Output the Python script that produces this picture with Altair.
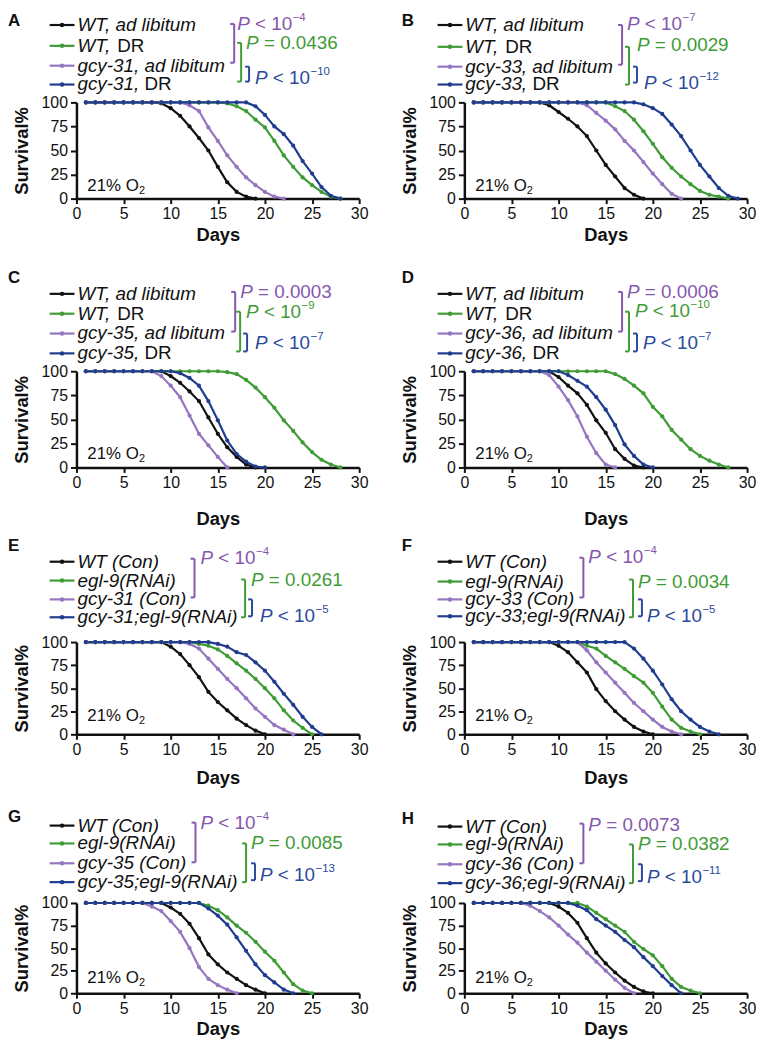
import altair as alt
import pandas as pd

# ---------------- data ----------------
SERIES_COLORS = ["#111111", "#3f9b35", "#9575c0", "#1f3c8f"]
P_COLORS = ["#8557ad", "#3f9b35", "#2b4a9b"]
X_TICKS = [0, 5, 10, 15, 20, 25, 30]
Y_TICKS = [0, 25, 50, 75, 100]
LETTERS = ["A", "B", "C", "D", "E", "F", "G", "H"]

A_WT_AL = [100, 100, 100, 100, 100, 100, 100, 100, 99, 94, 86, 75, 63, 50, 33, 17, 7, 2, 0]
A_WT_DR = [100, 100, 100, 100, 100, 100, 100, 100, 100, 100, 100, 100, 100, 100, 100, 99, 96, 91, 82, 74, 60, 45, 33, 22, 14, 7, 2, 0]
A_MUT_AL = [100, 100, 100, 100, 100, 100, 100, 100, 100, 100, 100, 97, 91, 74, 60, 45, 33, 22, 14, 7, 2, 0]
A_MUT_DR = [100, 100, 100, 100, 100, 100, 100, 100, 100, 100, 100, 100, 100, 100, 100, 100, 100, 100, 96, 87, 75, 67, 55, 39, 26, 12, 3, 0]

B_WT_AL = [100, 100, 100, 100, 100, 100, 100, 100, 97, 90, 83, 75, 65, 50, 35, 23, 11, 4, 0]
B_WT_DR = [100, 100, 100, 100, 100, 100, 100, 100, 100, 100, 100, 100, 100, 100, 100, 96, 91, 82, 70, 57, 43, 32, 23, 15, 8, 4, 2, 0]
B_MUT_AL = [100, 100, 100, 100, 100, 100, 100, 100, 100, 100, 100, 100, 97, 89, 81, 72, 60, 50, 38, 26, 15, 5, 0]
B_MUT_DR = [100, 100, 100, 100, 100, 100, 100, 100, 100, 100, 100, 100, 100, 100, 100, 100, 100, 100, 98, 94, 88, 77, 65, 50, 35, 23, 11, 3, 0]

C_WT_AL = [100, 100, 100, 100, 100, 100, 100, 100, 100, 95, 88, 79, 69, 52, 35, 21, 11, 3, 0]
C_WT_DR = [100, 100, 100, 100, 100, 100, 100, 100, 100, 100, 100, 100, 100, 100, 100, 99, 97, 91, 83, 73, 62, 49, 38, 26, 16, 8, 3, 0]
C_MUT_AL = [100, 100, 100, 100, 100, 100, 100, 100, 95, 85, 73, 54, 35, 23, 11, 0]
C_MUT_DR = [100, 100, 100, 100, 100, 100, 100, 100, 100, 100, 98, 93, 85, 69, 49, 28, 14, 6, 1, 0]

D_WT_AL = [100, 100, 100, 100, 100, 100, 100, 100, 100, 94, 85, 77, 65, 49, 36, 19, 9, 2, 0]
D_WT_DR = [100, 100, 100, 100, 100, 100, 100, 100, 100, 100, 100, 100, 100, 100, 100, 97, 92, 85, 77, 63, 53, 39, 29, 19, 12, 7, 3, 0]
D_MUT_AL = [100, 100, 100, 100, 100, 100, 100, 100, 96, 84, 70, 53, 32, 15, 3, 0]
D_MUT_DR = [100, 100, 100, 100, 100, 100, 100, 100, 100, 100, 96, 90, 84, 73, 60, 44, 24, 12, 3, 0]

E_WT = [100, 100, 100, 100, 100, 100, 100, 100, 100, 95, 87, 75, 62, 46, 35, 26, 17, 10, 4, 0]
E_EGL = [100, 100, 100, 100, 100, 100, 100, 100, 100, 100, 100, 100, 98, 96, 92, 85, 77, 69, 60, 50, 39, 26, 15, 7, 0]
E_MUT = [100, 100, 100, 100, 100, 100, 100, 100, 100, 100, 100, 98, 93, 82, 71, 60, 50, 39, 28, 19, 10, 5, 0]
E_MUT_EGL = [100, 100, 100, 100, 100, 100, 100, 100, 100, 100, 100, 100, 100, 100, 98, 95, 89, 86, 78, 69, 57, 44, 32, 19, 8, 0]

F_WT = [100, 100, 100, 100, 100, 100, 100, 100, 100, 96, 89, 78, 67, 49, 36, 25, 16, 8, 3, 0]
F_EGL = [100, 100, 100, 100, 100, 100, 100, 100, 100, 100, 100, 100, 96, 93, 85, 78, 71, 63, 56, 45, 30, 16, 7, 3, 0]
F_MUT = [100, 100, 100, 100, 100, 100, 100, 100, 100, 100, 100, 100, 91, 78, 67, 56, 45, 34, 25, 16, 8, 3, 0]
F_MUT_EGL = [100, 100, 100, 100, 100, 100, 100, 100, 100, 100, 100, 100, 100, 100, 100, 100, 100, 93, 82, 69, 54, 38, 25, 16, 8, 3, 0]

G_WT = [100, 100, 100, 100, 100, 100, 100, 100, 100, 95, 88, 77, 61, 43, 32, 23, 16, 9, 4, 0]
G_EGL = [100, 100, 100, 100, 100, 100, 100, 100, 100, 100, 100, 100, 100, 97, 92, 84, 75, 67, 57, 46, 36, 23, 10, 3, 0]
G_MUT = [100, 100, 100, 100, 100, 100, 100, 96, 91, 80, 68, 50, 29, 16, 9, 4, 0]
G_MUT_EGL = [100, 100, 100, 100, 100, 100, 100, 100, 100, 100, 100, 100, 100, 94, 86, 76, 62, 47, 32, 20, 12, 4, 0]

H_WT = [100, 100, 100, 100, 100, 100, 100, 100, 100, 96, 89, 78, 61, 45, 33, 23, 14, 7, 2, 0]
H_EGL = [100, 100, 100, 100, 100, 100, 100, 100, 100, 100, 100, 100, 96, 89, 82, 75, 68, 57, 49, 42, 30, 16, 7, 3, 0]
H_MUT = [100, 100, 100, 100, 100, 100, 97, 91, 84, 75, 65, 56, 45, 35, 25, 15, 6, 0]
H_MUT_EGL = [100, 100, 100, 100, 100, 100, 100, 100, 100, 100, 100, 97, 92, 82, 75, 68, 59, 51, 40, 30, 19, 9, 0]

SERIES = {
    "A": [A_WT_AL, A_WT_DR, A_MUT_AL, A_MUT_DR],
    "B": [B_WT_AL, B_WT_DR, B_MUT_AL, B_MUT_DR],
    "C": [C_WT_AL, C_WT_DR, C_MUT_AL, C_MUT_DR],
    "D": [D_WT_AL, D_WT_DR, D_MUT_AL, D_MUT_DR],
    "E": [E_WT, E_EGL, E_MUT, E_MUT_EGL],
    "F": [F_WT, F_EGL, F_MUT, F_MUT_EGL],
    "G": [G_WT, G_EGL, G_MUT, G_MUT_EGL],
    "H": [H_WT, H_EGL, H_MUT, H_MUT_EGL],
}

# legend entries: (italic part, upright part)
LEGENDS = {
    "A": [("WT, ad libitum", ""), ("WT,", "DR"), ("gcy-31, ad libitum", ""), ("gcy-31,", "DR")],
    "B": [("WT, ad libitum", ""), ("WT,", "DR"), ("gcy-33, ad libitum", ""), ("gcy-33,", "DR")],
    "C": [("WT, ad libitum", ""), ("WT,", "DR"), ("gcy-35, ad libitum", ""), ("gcy-35,", "DR")],
    "D": [("WT, ad libitum", ""), ("WT,", "DR"), ("gcy-36, ad libitum", ""), ("gcy-36,", "DR")],
    "E": [("WT (Con)", ""), ("egl-9(RNAi)", ""), ("gcy-31 (Con)", ""), ("gcy-31;egl-9(RNAi)", "")],
    "F": [("WT (Con)", ""), ("egl-9(RNAi)", ""), ("gcy-33 (Con)", ""), ("gcy-33;egl-9(RNAi)", "")],
    "G": [("WT (Con)", ""), ("egl-9(RNAi)", ""), ("gcy-35 (Con)", ""), ("gcy-35;egl-9(RNAi)", "")],
    "H": [("WT (Con)", ""), ("egl-9(RNAi)", ""), ("gcy-36 (Con)", ""), ("gcy-36;egl-9(RNAi)", "")],
}

# P values: (operator, number, exponent)
PVALUES = {
    "A": [("<", "10", "\u22124"), ("=", "0.0436", ""), ("<", "10", "\u221210")],
    "B": [("<", "10", "\u22127"), ("=", "0.0029", ""), ("<", "10", "\u221212")],
    "C": [("=", "0.0003", ""), ("<", "10", "\u22129"), ("<", "10", "\u22127")],
    "D": [("=", "0.0006", ""), ("<", "10", "\u221210"), ("<", "10", "\u22127")],
    "E": [("<", "10", "\u22124"), ("=", "0.0261", ""), ("<", "10", "\u22125")],
    "F": [("<", "10", "\u22124"), ("=", "0.0034", ""), ("<", "10", "\u22125")],
    "G": [("<", "10", "\u22124"), ("=", "0.0085", ""), ("<", "10", "\u221213")],
    "H": [("=", "0.0073", ""), ("=", "0.0382", ""), ("<", "10", "\u221211")],
}
SERIES_NAMES = ["s0", "s1", "s2", "s3"]

# ---------------- layout (pixels, relative to each plot's top-left) ----------------
PLOT_W = 285
ROW_H = [97, 97, 93, 91]
ROW_T = [90, 103, 106, 96]
ROW_B = [71, 70, 74, 45]
ROW_TITLE_PAD = [4, 19, 12, 4]
COL_L = [69, 66]
COL_R = [40, 10]
O2_FRAC = [0.87, 0.86, 0.80, 0.83]

LAYOUT = {
    "A": dict(lines=[-78, -57, -37, -18], br=[159, 166, 174], brY=[(-79, -40), (-60, -21), (-36, -21)],
              p=[(162, -79), (171, -60), (180, -25)], letter=(-69, -90)),
    "B": dict(lines=[-78, -56, -36, -18], br=[159, 166, 174], brY=[(-78, -38), (-56, -18), (-36, -20)],
              p=[(164, -79), (174, -58), (181, -20)], letter=(-63, -90)),
    "C": dict(lines=[-78, -58, -38, -18], br=[160, 165, 172], brY=[(-80, -40), (-60, -20), (-38, -20)],
              p=[(165, -80), (171, -60), (180, -28)], letter=(-69, -102)),
    "D": dict(lines=[-78, -58, -38, -18], br=[159, 166, 174], brY=[(-80, -40), (-60, -20), (-38, -20)],
              p=[(164, -80), (172, -61), (180, -28)], letter=(-63, -102)),
    "E": dict(lines=[-81, -62, -43, -25], br=[119, 170, 177], brY=[(-84, -45), (-63, -25), (-43, -26)],
              p=[(125, -85), (176, -63), (185, -26)], letter=(-69, -105)),
    "F": dict(lines=[-81, -61, -43, -26], br=[120, 170, 179], brY=[(-85, -45), (-63, -25), (-43, -26)],
              p=[(125, -86), (175, -61), (184, -26)], letter=(-63, -105)),
    "G": dict(lines=[-78, -60, -40, -21], br=[120, 171, 180], brY=[(-81, -41), (-60, -21), (-40, -23)],
              p=[(125, -81), (176, -60), (185, -28)], letter=(-69, -95)),
    "H": dict(lines=[-77, -59, -39, -20], br=[120, 170, 179], brY=[(-80, -40), (-59, -20), (-39, -22)],
              p=[(125, -79), (175, -59), (184, -26)], letter=(-63, -93)),
}

FONT = "Liberation Sans"
LEG_FS = 19
O2_FS = 17
SUP_FS = 11.5
SUP_DY = -6

CW = {' ': 278, '(': 333, ')': 333, ',': 278, '-': 333, '.': 278, ';': 278, '<': 584, '=': 584,
      '%': 889, '\u2212': 584, 'A': 667, 'C': 722, 'D': 722, 'N': 722, 'O': 778, 'P': 667,
      'R': 722, 'T': 611, 'W': 944, 'a': 556, 'b': 556, 'c': 500, 'd': 556, 'e': 556, 'g': 556,
      'i': 222, 'l': 222, 'm': 833, 'n': 556, 'o': 556, 't': 278, 'u': 556, 'y': 500}


def tw(s, fs):
    return sum(CW.get(ch, 556) for ch in s) / 1000.0 * fs


def panel(idx):
    key = LETTERS[idx]
    row, col = idx // 2, idx % 2
    H = ROW_H[row]
    lay = LAYOUT[key]

    recs = []
    for si, vals in enumerate(SERIES[key]):
        for d, v in enumerate(vals, start=1):
            recs.append({"day": d, "surv": v, "series": SERIES_NAMES[si]})
    df = pd.DataFrame(recs)

    xsc = alt.Scale(domain=[0, 30], nice=False, zero=False)
    ysc = alt.Scale(domain=[0, 100], nice=False)
    xax = alt.Axis(values=X_TICKS, title="Days", titlePadding=ROW_TITLE_PAD[row], tickSize=5,
                   labelPadding=2, labelFlush=False, labelOverlap=False, grid=False, format="d")
    yax = alt.Axis(values=Y_TICKS, title="Survival%", titlePadding=10, tickSize=6,
                   labelPadding=3, labelFlush=False, labelOverlap=False, grid=False, format="d")
    col_enc = alt.Color("series:N", scale=alt.Scale(domain=SERIES_NAMES, range=SERIES_COLORS), legend=None)

    base = alt.Chart(df)
    enc_x = alt.X("day:Q", scale=xsc, axis=xax)
    enc_y = alt.Y("surv:Q", scale=ysc, axis=yax)
    lines = base.mark_line(strokeWidth=2.2).encode(x=enc_x, y=enc_y, color=col_enc)
    pts = base.mark_circle(size=18, opacity=1).encode(x=enc_x, y=enc_y, color=col_enc)

    rules, dots, ital, norm, bold = [], [], [], [], []
    # invisible bounding frame
    rules.append(dict(x=-COL_L[col], x2=PLOT_W + COL_R[col], y=-ROW_T[row], y2=H + ROW_B[row],
                      c="#ffffff", sw=1, op=0))
    # legend
    for k, (it, up) in enumerate(LEGENDS[key]):
        yk = lay["lines"][k]
        rules.append(dict(x=-27, x2=-2, y=yk, y2=yk, c=SERIES_COLORS[k], sw=2.2, op=1))
        dots.append(dict(x=-14.5, y=yk, c=SERIES_COLORS[k]))
        ital.append(dict(x=1, y=yk, t=it, c="#111111", fs=LEG_FS))
        if up:
            norm.append(dict(x=1 + tw(it + " ", LEG_FS), y=yk, t=up, c="#111111", fs=LEG_FS))
    # brackets
    for j in range(3):
        bx = lay["br"][j]
        y1, y2 = lay["brY"][j]
        c = P_COLORS[j]
        rules.append(dict(x=bx, x2=bx, y=y1, y2=y2, c=c, sw=2, op=1))
        rules.append(dict(x=bx - 4, x2=bx, y=y1, y2=y1, c=c, sw=2, op=1))
        rules.append(dict(x=bx - 4, x2=bx, y=y2, y2=y2, c=c, sw=2, op=1))
    # P values
    for j, (op, num, ex) in enumerate(PVALUES[key]):
        px, py = lay["p"][j]
        c = P_COLORS[j]
        ital.append(dict(x=px, y=py, t="P", c=c, fs=LEG_FS))
        body = op + " " + num
        bx0 = px + tw("P ", LEG_FS)
        norm.append(dict(x=bx0, y=py, t=body, c=c, fs=LEG_FS))
        if ex:
            norm.append(dict(x=bx0 + tw(body, LEG_FS) + 0.5, y=py + SUP_DY, t=ex, c=c, fs=SUP_FS))
    # 21% O2
    oy = O2_FRAC[row] * H
    ox = 11
    norm.append(dict(x=ox, y=oy, t="21% O", c="#111111", fs=O2_FS))
    norm.append(dict(x=ox + tw("21% O", O2_FS), y=oy + 5, t="2", c="#111111", fs=11))
    # panel letter
    lx, ly = lay["letter"]
    bold.append(dict(x=lx, y=ly, t=key, c="#111111", fs=17))

    def px(f):
        return alt.X(f + ":Q", scale=None)

    def py(f):
        return alt.Y(f + ":Q", scale=None)

    rule_layer = alt.Chart(pd.DataFrame(rules)).mark_rule().encode(
        x=px("x"), x2="x2:Q", y=py("y"), y2="y2:Q",
        color=alt.Color("c:N", scale=None),
        strokeWidth=alt.StrokeWidth("sw:Q", scale=None),
        opacity=alt.Opacity("op:Q", scale=None),
    )
    dot_layer = alt.Chart(pd.DataFrame(dots)).mark_circle(size=20, opacity=1).encode(
        x=px("x"), y=py("y"), color=alt.Color("c:N", scale=None))

    def text_layer(rows, **kw):
        return alt.Chart(pd.DataFrame(rows)).mark_text(align="left", font=FONT, **kw).encode(
            x=px("x"), y=py("y"), text="t:N",
            color=alt.Color("c:N", scale=None),
            size=alt.Size("fs:Q", scale=None),
        )

    ital_layer = text_layer(ital, baseline="middle", fontStyle="italic")
    norm_layer = text_layer(norm, baseline="middle")
    bold_layer = text_layer(bold, baseline="top", fontWeight="bold")

    return alt.layer(lines, pts, rule_layer, dot_layer, ital_layer, norm_layer, bold_layer).properties(
        width=PLOT_W, height=H)


rows = []
for r in range(4):
    rows.append(alt.hconcat(panel(2 * r), panel(2 * r + 1), spacing=0))

chart = alt.vconcat(*rows, spacing=0).properties(padding=0).configure_view(stroke=None).configure_axis(
    domainColor="#111111", domainWidth=2.5, tickColor="#111111", tickWidth=2,
    labelFont=FONT, labelFontSize=16, labelColor="#111111", labelOverlap=False,
    titleFont=FONT, titleFontSize=18.5, titleFontWeight="bold", titleColor="#111111",
)

chart.save("out.html", embed_options={"renderer": "svg", "actions": False})
